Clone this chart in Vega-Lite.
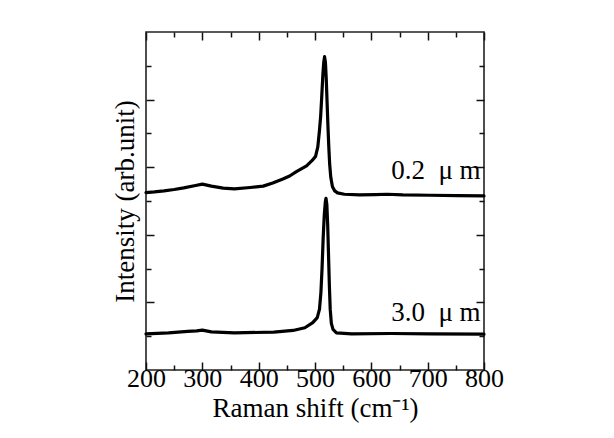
{
  "$schema": "https://vega.github.io/schema/vega-lite/v6.json",
  "width": 338,
  "height": 338,
  "autosize": "none",
  "padding": {"left": 146, "top": 32, "right": 130, "bottom": 68},
  "background": "white",
  "config": {
    "view": {"stroke": "#222222", "strokeWidth": 1.6},
    "font": "Liberation Serif",
    "axis": {"grid": false, "domain": false, "tickColor": "#111111", "tickWidth": 1.5, "labelColor": "black", "titleColor": "black", "titleFontWeight": "normal", "labelFont": "Liberation Serif", "titleFont": "Liberation Serif"}
  },
  "datasets": {
    "spectra": [
      {"sample": "0.2", "shift": 200, "intensity": 5.25},
      {"sample": "0.2", "shift": 215, "intensity": 5.27},
      {"sample": "0.2", "shift": 232, "intensity": 5.30},
      {"sample": "0.2", "shift": 250, "intensity": 5.34},
      {"sample": "0.2", "shift": 267, "intensity": 5.39},
      {"sample": "0.2", "shift": 288, "intensity": 5.46},
      {"sample": "0.2", "shift": 300, "intensity": 5.50},
      {"sample": "0.2", "shift": 316, "intensity": 5.44},
      {"sample": "0.2", "shift": 337, "intensity": 5.38},
      {"sample": "0.2", "shift": 357, "intensity": 5.36},
      {"sample": "0.2", "shift": 385, "intensity": 5.40},
      {"sample": "0.2", "shift": 408, "intensity": 5.44},
      {"sample": "0.2", "shift": 425, "intensity": 5.53},
      {"sample": "0.2", "shift": 443, "intensity": 5.65},
      {"sample": "0.2", "shift": 455, "intensity": 5.74},
      {"sample": "0.2", "shift": 467, "intensity": 5.87},
      {"sample": "0.2", "shift": 485, "intensity": 6.04},
      {"sample": "0.2", "shift": 495, "intensity": 6.2},
      {"sample": "0.2", "shift": 501, "intensity": 6.32},
      {"sample": "0.2", "shift": 505, "intensity": 6.6},
      {"sample": "0.2", "shift": 508, "intensity": 7.1},
      {"sample": "0.2", "shift": 510, "intensity": 7.5},
      {"sample": "0.2", "shift": 512, "intensity": 8.1},
      {"sample": "0.2", "shift": 514, "intensity": 8.75},
      {"sample": "0.2", "shift": 515.5, "intensity": 9.1},
      {"sample": "0.2", "shift": 517, "intensity": 9.27},
      {"sample": "0.2", "shift": 518.5, "intensity": 9.1},
      {"sample": "0.2", "shift": 520, "intensity": 8.6},
      {"sample": "0.2", "shift": 521.5, "intensity": 7.9},
      {"sample": "0.2", "shift": 523, "intensity": 7.2},
      {"sample": "0.2", "shift": 524.5, "intensity": 6.6},
      {"sample": "0.2", "shift": 526, "intensity": 6.1},
      {"sample": "0.2", "shift": 528, "intensity": 5.7},
      {"sample": "0.2", "shift": 531, "intensity": 5.42},
      {"sample": "0.2", "shift": 535, "intensity": 5.3},
      {"sample": "0.2", "shift": 540, "intensity": 5.24},
      {"sample": "0.2", "shift": 552, "intensity": 5.2},
      {"sample": "0.2", "shift": 579, "intensity": 5.18},
      {"sample": "0.2", "shift": 607, "intensity": 5.19},
      {"sample": "0.2", "shift": 628, "intensity": 5.2},
      {"sample": "0.2", "shift": 656, "intensity": 5.18},
      {"sample": "0.2", "shift": 704, "intensity": 5.17},
      {"sample": "0.2", "shift": 753, "intensity": 5.16},
      {"sample": "0.2", "shift": 800, "intensity": 5.15},
      {"sample": "3.0", "shift": 200, "intensity": 1.07},
      {"sample": "3.0", "shift": 240, "intensity": 1.10},
      {"sample": "3.0", "shift": 274, "intensity": 1.14},
      {"sample": "3.0", "shift": 290, "intensity": 1.16},
      {"sample": "3.0", "shift": 300, "intensity": 1.18},
      {"sample": "3.0", "shift": 316, "intensity": 1.13},
      {"sample": "3.0", "shift": 357, "intensity": 1.10},
      {"sample": "3.0", "shift": 427, "intensity": 1.12},
      {"sample": "3.0", "shift": 461, "intensity": 1.17},
      {"sample": "3.0", "shift": 482, "intensity": 1.25},
      {"sample": "3.0", "shift": 496, "intensity": 1.40},
      {"sample": "3.0", "shift": 504, "intensity": 1.55},
      {"sample": "3.0", "shift": 508, "intensity": 1.8},
      {"sample": "3.0", "shift": 510.5, "intensity": 2.3},
      {"sample": "3.0", "shift": 512.5, "intensity": 3.0},
      {"sample": "3.0", "shift": 514.5, "intensity": 3.9},
      {"sample": "3.0", "shift": 516.5, "intensity": 4.6},
      {"sample": "3.0", "shift": 518.5, "intensity": 5.0},
      {"sample": "3.0", "shift": 519.5, "intensity": 5.08},
      {"sample": "3.0", "shift": 521, "intensity": 4.9},
      {"sample": "3.0", "shift": 522.5, "intensity": 4.3},
      {"sample": "3.0", "shift": 524, "intensity": 3.4},
      {"sample": "3.0", "shift": 525.5, "intensity": 2.5},
      {"sample": "3.0", "shift": 527, "intensity": 1.8},
      {"sample": "3.0", "shift": 529, "intensity": 1.38},
      {"sample": "3.0", "shift": 532, "intensity": 1.2},
      {"sample": "3.0", "shift": 538, "intensity": 1.1},
      {"sample": "3.0", "shift": 565, "intensity": 1.07},
      {"sample": "3.0", "shift": 635, "intensity": 1.08},
      {"sample": "3.0", "shift": 704, "intensity": 1.07},
      {"sample": "3.0", "shift": 800, "intensity": 1.06}
    ],
    "labels": [
      {"x": 794, "y": 5.64, "label": "0.2\u00a0\u00a0μ\u00a0m"},
      {"x": 794, "y": 1.44, "label": "3.0\u00a0\u00a0μ\u00a0m"}
    ]
  },
  "layer": [
    {
      "data": {"name": "spectra"},
      "mark": {"type": "line", "color": "black", "strokeWidth": 3.2, "strokeJoin": "round", "strokeCap": "round"},
      "encoding": {
        "x": {
          "field": "shift", "type": "quantitative",
          "scale": {"domain": [200, 800], "nice": false, "zero": false},
          "axis": {
            "orient": "bottom",
            "values": [200, 250, 300, 350, 400, 450, 500, 550, 600, 650, 700, 750, 800],
            "labelExpr": "datum.value % 100 === 0 ? datum.label : ''",
            "tickSize": {"condition": {"test": "datum.value % 100 === 0", "value": -8}, "value": -5},
            "labelFontSize": 26, "labelPadding": 3, "labelOverlap": false, "labelFlush": false,
            "title": "Raman shift (cm⁻¹)", "titleFontSize": 27, "titlePadding": 1
          }
        },
        "y": {
          "field": "intensity", "type": "quantitative",
          "scale": {"domain": [0, 10], "nice": false, "zero": false},
          "axis": {
            "orient": "left",
            "values": [1, 2, 3, 4, 5, 6, 7, 8, 9],
            "labels": false,
            "tickSize": {"condition": {"test": "datum.value % 2 === 0", "value": -8}, "value": -5},
            "title": "Intensity (arb.unit)", "titleFontSize": 27, "titlePadding": 6
          }
        },
        "detail": {"field": "sample", "type": "nominal"}
      }
    },
    {
      "data": {"name": "labels"},
      "mark": {"type": "text", "align": "right", "baseline": "alphabetic", "fontSize": 27, "font": "Liberation Serif", "color": "black"},
      "encoding": {
        "x": {
          "field": "x", "type": "quantitative",
          "axis": {
            "orient": "top", "title": null, "labels": false,
            "values": [200, 250, 300, 350, 400, 450, 500, 550, 600, 650, 700, 750, 800],
            "tickSize": {"condition": {"test": "datum.value % 100 === 0", "value": -8}, "value": -5}
          }
        },
        "y": {
          "field": "y", "type": "quantitative",
          "axis": {
            "orient": "right", "title": null, "labels": false,
            "values": [1, 2, 3, 4, 5, 6, 7, 8, 9],
            "tickSize": {"condition": {"test": "datum.value % 2 === 0", "value": -8}, "value": -5}
          }
        },
        "text": {"field": "label", "type": "nominal"}
      }
    }
  ],
  "resolve": {"axis": {"x": "independent", "y": "independent"}}
}
